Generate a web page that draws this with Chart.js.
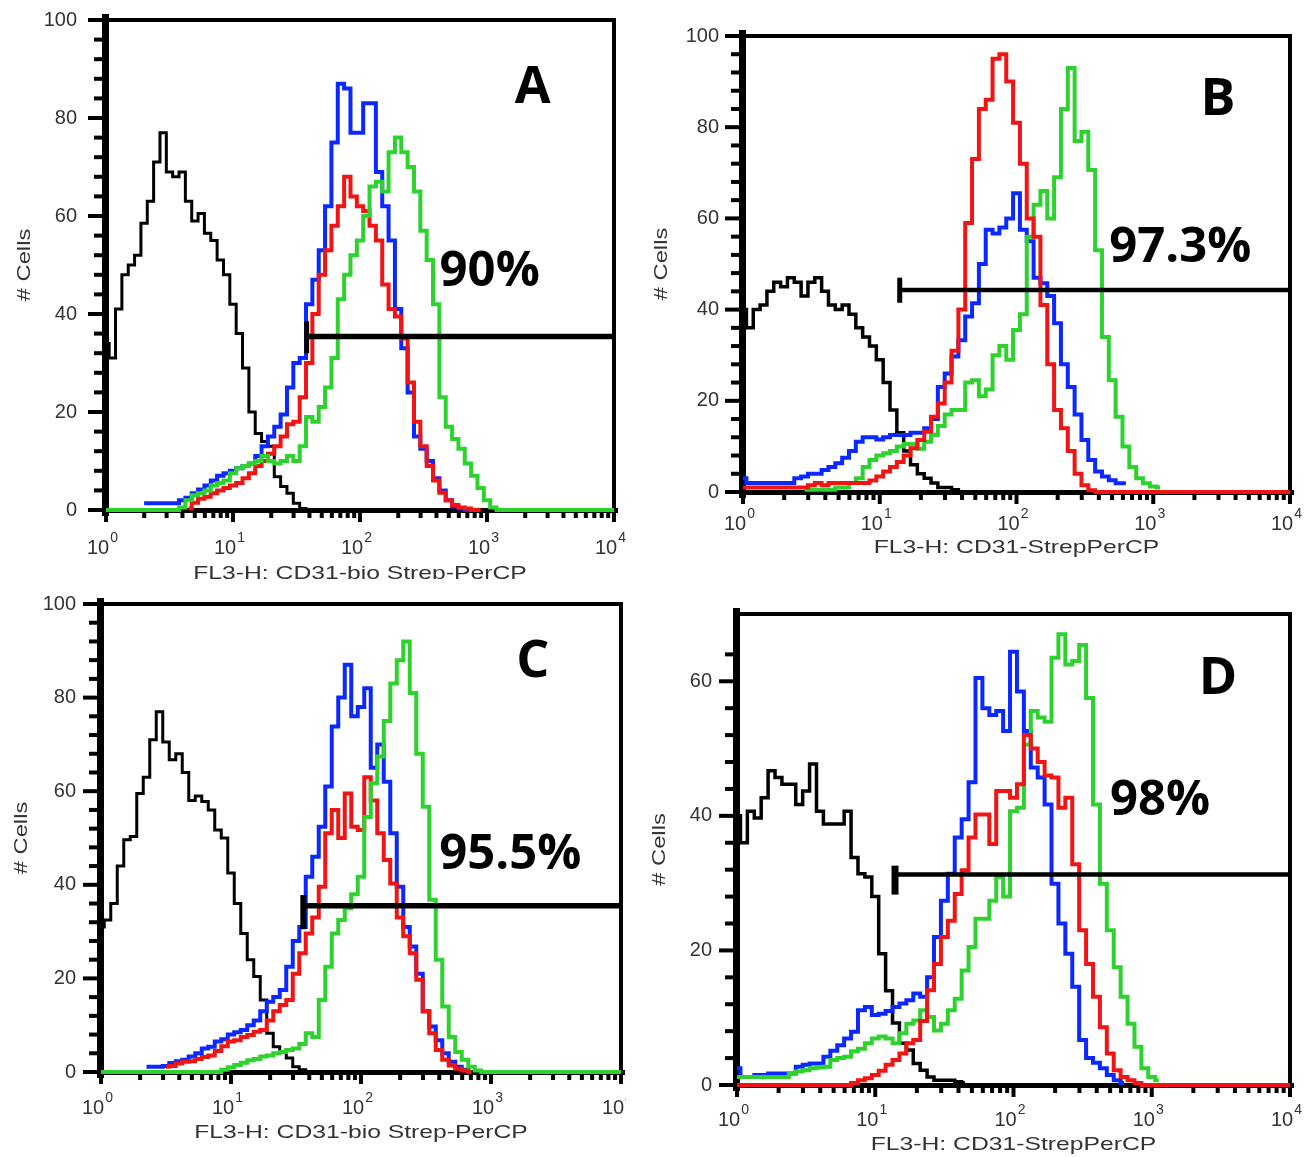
<!DOCTYPE html>
<html>
<head>
<meta charset="utf-8">
<title>CD31 flow cytometry histograms</title>
<script src="https://cdn.jsdelivr.net/npm/chart.js@4.4.1/dist/chart.umd.min.js"></script>
<style>
  body { margin: 0; background: #fff; }
  #wrap { position: relative; width: 1308px; height: 1157px; overflow: hidden; background: #fff; }
  #wrap canvas { position: absolute; }
</style>
</head>
<body>
<div id="wrap">
  <canvas id="chartA" width="640" height="579" style="left:0;top:0"></canvas>
  <canvas id="chartB" width="668" height="579" style="left:640px;top:0"></canvas>
  <canvas id="chartC" width="626" height="574" style="left:0;top:583px"></canvas>
  <canvas id="chartD" width="668" height="574" style="left:640px;top:583px"></canvas>
</div>
<script>
// histogram channels: 20 bins per decade from 10^0 to 10^4
const bins = Array.from({ length: 81 }, (_, i) => Math.pow(10, i / 20));

// x ticks of the log axis (1..9 x 10^n)
const xTicks = [];
for (let e = 0; e < 4; e++) for (let m = 1; m < 10; m++) xTicks.push(m * Math.pow(10, e));
xTicks.push(10000);

// ---- panel A ----
const aBlack = [34,31,41,48,50,52,58.5,63,71,77,69,68,69,63,59,60.5,56.5,55,51,48,42,36,29,20,15.6,14,13,6.8,4.8,3.4,1.4,0.3,0];
const aBlue = [null,null,null,null,null,null,1.4,1.4,1.4,1.4,1.4,1.4,2,2.5,3.4,4.2,5,6,7,7.5,8,8.5,9,9.5,11,13,15,17,19.5,25,30,31,42,47,53,62,75,87,86,77,77,83,83,69,62,55,41,33,24,15,12.5,10,6.5,4,2,0.7,0.3,0,0];
const aRed = [null,null,null,null,null,null,null,null,null,null,null,null,null,0.3,1.5,2.3,2.7,3.4,4,4.5,5,5.5,6.5,7.5,9,10,11.5,13,15,17.5,18,23,30,40,48,53,58,62,68,64,62,61,58,55,46,41,39.5,35,26,18,13,9,6,3.5,2,1,0.5,0.3,0,0];
const aGreen = [0,0,0,0,0,0,0,0,0,0,0,0,
  0.5,2,3,3.4,4,5,5.5,6,7.5,8.5,
  9,9.5,10,11,10,9.5,10,11,10,13,
  19,18,21,25,31,43,48,52,55,60,
  66,67,65,73,76,73,70,65,57,51,
  42,23,17,14.5,12.5,9.5,7,4.5,2,0.5,
  0,0,0,0,0,0,0,0,0,0,0,0,0,0,0,0,0,0,0];
const aGateX = [38, 10000], aGateY = 35.4, aGateTick = [32, 38.5];

// ---- panel B ----
const bBlack = [40,36,40,41,44,46,45,47,46,43,46,47,44,41,40,41,39,36,34,32,29,24,18,13,9,6,4,3,2,1,1,0.5,0];
const bBlue = [3,2,2,2,2,2,2,2,3,3.4,4,4,4.8,5.5,6.3,7.5,9,11,12,12,11.5,12,12.5,12.5,12.5,13,13,14,16,23,26,29.7,33.3,38.5,41.4,50,57.5,56.7,58,60,65.5,57.5,55,47,45.8,43,37,28,23,17,11.4,7,4.5,3.4,2.6,1.9,1.9];
const bRed = [1,1,1,1,1,1,1,1,1,1,
  1.5,2,1.5,2,2,2,2,2,2,2.5,
  3.4,4.5,5.5,6.6,8,9.6,11.4,13.2,16.5,19.4,
  24,31,40,59,73,84,86,95,96,90,
  81,72,60,56,41,28,18,14,9,4,
  1.5,0.4,
  0,0,0,0,0,0,0,0,0,0,0,0,0,0,0,0,0,0,0,0,0,0,0,0,0,0,0,0,0];
const bGreen = [null,null,null,null,null,null,null,null,null,0.5,0.5,0.5,0.5,0.5,1,1,2,3,5.5,7,8,8.5,9,10,10.5,10.5,9.5,11,12.5,14.5,17,18,18,24,24.5,21,22.5,30,32,29,35.5,39,56,63,66,60,69,84,93,77,79,70.6,53,34,24.5,16.5,10,5.5,3,1.9,1.2,1];
const bGateX = [14, 10000], bGateY = 44.3, bGateTick = [41.5, 47];

// ---- panel C ----
const cBlack = [31,32.5,36,44,49.6,50.3,59.5,63,71,77,70.5,66.7,68,64,58,59,57.8,56,51.7,50,42.5,36,29.6,24,20.4,15.4,8.3,5.4,4.3,3,1.1,0.5,0];
const cBlue = [null,null,null,null,null,null,null,1.1,1.1,1.1,1.3,1.9,2.3,2.6,3.3,4,5,5.4,6.5,7,8,8.5,9,10,11,13,15,16,17.5,22.5,28,31,41.7,46,52.4,61,73.8,80,87,76,78,82,65,70,62,51,39.6,31,26.8,21,13,9.7,6.8,4,2.2,1.1,0.5,0];
const cRed = [null,null,null,null,null,null,null,null,null,null,1.1,1.3,1.8,2.2,2.3,2.8,3.2,3.5,4.5,5.5,6.5,6.8,7.5,7.9,8.6,9,11,13,14.3,15.4,21,25.4,29.6,33,39.6,51,56,50,59.5,52.4,51.7,63,58,51,45.3,40.3,33,29,25.4,19.7,13,8.3,4.7,2.6,1.4,0.7,0.3,0];
const cGreen = [0,0,0,0,0,0,0,0,0,0,0,0,0,0,0,0,0,0,0,
  0.5,1,1.5,2,2.5,2.8,3.3,3.5,4,4.3,
  4.7,5,6,8.3,7.5,15.4,22.5,29.6,32.5,35,
  38,41.7,54.5,61.7,67.4,75,83,88,92,81,
  68,56.7,36.8,24,14,7.5,4.3,2.6,1.1,0.3,
  0,0,0,0,0,0,0,0,0,0,0,0,0,0,0,0,0,0,0,0,0,0];
const cGateX = [36, 10000], cGateY = 35.5, cGateTick = [30.5, 37.8];

// ---- panel D ----
const dBlack = [40,36,40.7,39.7,42.7,46.7,45.7,44.7,44.7,41.7,43.7,47.7,40.7,38.8,38.8,38.8,40.7,33.8,31.4,30.9,28,19.5,14,9.2,6.2,5.2,3.2,2.2,1.2,0.7,0.7,0.7,0.5,0.3];
const dBlue = [2.5,1.2,1.2,1.5,1.5,1.7,1.7,1.7,1.7,2.7,3,3.2,3.2,4.2,5.1,5.9,6.9,7.9,11.1,11.6,10.4,10.6,11,11.6,12.1,12.6,13.6,13.1,16,22,27.4,31.4,36.8,39.5,45,60.5,56,55,55.6,52.6,64.4,58.5,52.6,47.2,45.7,41.7,29.9,24,19.5,14.6,6.7,4,3.3,2.5,1.5,0.7,0.3];
const dRed = [0,0,0,0,0,0,0,0,0,0,0,0,0,0,0,0,0,
  0.3,0.7,1,1.5,2.1,3,3.7,4.7,6.2,6.7,
  9.5,14.1,18,22,24.4,28.4,31.9,36.8,40.2,40.2,
  35.8,43.7,43.7,42.7,44.7,52,50,48,46,45.7,
  41.2,42.7,32.8,23,18,13.1,8.6,4.7,2.2,1.2,
  0.7,0.3,
  0,0,0,0,0,0,0,0,0,0,0,0,0,0,0,0,0,0,0,0,0,0];
const dGreen = [1.2,1.2,1.2,1.2,1.2,1.2,1.2,1.2,1.7,2,2.2,2.5,2.6,2.7,3.7,4,4.2,5,5.4,6.2,6.9,7.2,6.9,6.2,7.7,9.1,9.6,11.1,10.1,8.1,9.1,11.1,12.8,17,20.5,24.7,24.7,27.4,30.9,28,40.7,41.2,50.6,55.6,54.6,54,63.5,67,62.5,63,65.4,57.5,41.7,29.9,23,17.5,13.1,9.1,5.7,2.5,1.2,0.7];
const dGateX = [13.9, 10000], dGateY = 31.3, dGateTick = [28.3, 32.6];

const BLACK = '#000000', BLUE = '#0a28ff', RED = '#f01414', GREEN = '#2ed22e';

Chart.defaults.font.family = '"Liberation Sans", Arial, sans-serif';

function points(values) {
  return values.map((v, i) => (v === null ? null : { x: bins[i], y: v })).filter(p => p !== null);
}

function isDecade(v) {
  const e = Math.round(Math.log10(v));
  return Math.abs(Math.pow(10, e) - v) < 1e-6;
}

// frame, axis lines and tick marks (drawn under the data, like the original)
const framePlugin = {
  id: 'frame',
  beforeDatasetsDraw(chart) {
    const { ctx, chartArea: a, scales: { x, y } } = chart;
    ctx.save();
    ctx.fillStyle = '#000';
    ctx.fillRect(a.left, a.top - 2, a.right - a.left + 2, 4);
    ctx.fillRect(a.right - 2, a.top - 2, 4, a.bottom - a.top + 4);
    ctx.fillRect(a.left - 4, a.top - 6, 7, a.bottom - a.top + 12);
    ctx.fillRect(a.left - 4, a.bottom - 2, a.right - a.left + 8, 5);
    y.ticks.forEach(t => {
      if (t.value % 4 !== 0) return;
      const py = y.getPixelForValue(t.value);
      const len = t.value % 20 === 0 ? 14 : 8;
      ctx.fillRect(a.left - 4 - len, py - 2, len, 4);
    });
    x.ticks.forEach(t => {
      const px = x.getPixelForValue(t.value);
      ctx.fillRect(px - 2, a.bottom + 2, 4, isDecade(t.value) ? 10 : 6);
    });
    ctx.restore();
  }
};

// decade labels (10 with a raised exponent), panel letter, gate percentage, axis titles
const textPlugin = {
  id: 'panelText',
  afterDraw(chart, args, o) {
    const { ctx, chartArea: a, scales: { x, y } } = chart;
    ctx.save();
    ctx.textBaseline = 'middle';

    ctx.fillStyle = '#333';
    x.ticks.forEach(t => {
      if (!isDecade(t.value)) return;
      const e = Math.round(Math.log10(t.value));
      const px = x.getPixelForValue(t.value);
      ctx.font = '20px "Liberation Sans"';
      const w10 = ctx.measureText('10').width;
      ctx.font = '14px "Liberation Sans"';
      const wE = ctx.measureText(String(e)).width;
      const left = px - 4 - (w10 + wE) / 2;
      ctx.textAlign = 'left';
      ctx.font = '20px "Liberation Sans"';
      ctx.fillText('10', left, a.bottom + o.xLabelOff);
      ctx.font = '14px "Liberation Sans"';
      ctx.fillText(String(e), left + w10 + 1, a.bottom + o.xLabelOff - 10);
    });

    ctx.textAlign = 'center';
    ctx.fillStyle = '#000';
    ctx.font = '700 52px "Open Sans"';
    ctx.fillText(o.letter, x.getPixelForValue(o.letterAt[0]), y.getPixelForValue(o.letterAt[1]));
    ctx.font = '700 49px "Open Sans"';
    ctx.fillText(o.pct, x.getPixelForValue(o.pctAt[0]), y.getPixelForValue(o.pctAt[1]));

    ctx.fillStyle = '#333';
    ctx.font = '19px "Liberation Sans"';
    ctx.save();
    ctx.translate((a.left + a.right) / 2, a.bottom + o.xTitleOff);
    ctx.scale(1.3, 1);
    ctx.fillText(o.xTitle, 0, 0);
    ctx.restore();
    ctx.save();
    ctx.translate(a.left - o.yTitleOff, (a.top + a.bottom) / 2);
    ctx.rotate(-Math.PI / 2);
    ctx.scale(1.25, 1);
    ctx.fillText('# Cells', 0, 0);
    ctx.restore();
    ctx.restore();
  }
};

function histChart(id, p) {
  const datasets = [
    { data: [{ x: p.gateX[0], y: p.gateY }, { x: p.gateX[1], y: p.gateY }], borderColor: '#000', borderWidth: p.gateW, clip: false },
    { data: [{ x: p.gateX[0], y: p.gateTick[0] }, { x: p.gateX[0], y: p.gateTick[1] }], borderColor: '#000', borderWidth: p.tickW, clip: false }
  ];
  p.series.forEach(([values, color, width]) => {
    datasets.push({ data: points(values), borderColor: color, borderWidth: width, stepped: 'middle', clip: false, borderJoinStyle: 'miter' });
  });

  return new Chart(document.getElementById(id), {
    type: 'line',
    data: { datasets },
    options: {
      responsive: false,
      animation: false,
      events: [],
      layout: { padding: { top: p.padTop, right: p.padRight, left: 0, bottom: 0 } },
      elements: { point: { radius: 0 } },
      plugins: {
        legend: { display: false },
        tooltip: { enabled: false },
        panelText: p.text
      },
      scales: {
        x: {
          type: 'logarithmic',
          min: 1,
          max: 10000,
          grid: { display: false, drawTicks: false },
          border: { display: false },
          afterBuildTicks: s => { s.ticks = xTicks.map(v => ({ value: v })); },
          afterFit: s => { s.height = p.xAxisH; s.paddingLeft = 0; s.paddingRight = 0; },
          ticks: { display: false, autoSkip: false }
        },
        y: {
          min: 0,
          max: p.yMax,
          grid: { display: false, drawTicks: false },
          border: { display: false },
          afterFit: s => { s.width = p.yAxisW; s.paddingTop = 0; s.paddingBottom = 0; },
          ticks: {
            stepSize: 4,
            autoSkip: false,
            padding: p.yPad,
            color: '#333',
            font: { size: 20 },
            callback: v => (v % 20 === 0 ? v : '')
          }
        }
      }
    },
    plugins: [framePlugin, textPlugin]
  });
}

histChart('chartA', {
  yMax: 100, padTop: 20, padRight: 26, yAxisW: 106, xAxisH: 69, yPad: 29,
  gateX: aGateX, gateY: aGateY, gateTick: aGateTick, gateW: 5.5, tickW: 5,
  series: [[aGreen, GREEN, 4], [aRed, RED, 4], [aBlue, BLUE, 4], [aBlack, BLACK, 3]],
  text: { letter: 'A', letterAt: [2290, 86], pct: '90%', pctAt: [1050, 48.6],
          xTitle: 'FL3-H: CD31-bio Strep-PerCP', xTitleOff: 64, yTitleOff: 81, xLabelOff: 38 }
});

histChart('chartB', {
  yMax: 100, padTop: 36, padRight: 18, yAxisW: 103, xAxisH: 87, yPad: 24,
  gateX: bGateX, gateY: bGateY, gateTick: bGateTick, gateW: 4.5, tickW: 5,
  series: [[bRed, RED, 4], [bGreen, GREEN, 4], [bBlue, BLUE, 4], [bBlack, BLACK, 3.5]],
  text: { letter: 'B', letterAt: [2970, 86], pct: '97.3%', pctAt: [1580, 53.5],
          xTitle: 'FL3-H: CD31-StrepPerCP', xTitleOff: 56, yTitleOff: 81, xLabelOff: 32 }
});

histChart('chartC', {
  yMax: 100, padTop: 21, padRight: 5, yAxisW: 101, xAxisH: 85, yPad: 25,
  gateX: cGateX, gateY: cGateY, gateTick: cGateTick, gateW: 5.5, tickW: 6,
  series: [[cGreen, GREEN, 4], [cRed, RED, 4], [cBlue, BLUE, 4], [cBlack, BLACK, 3]],
  text: { letter: 'C', letterAt: [2100, 87.6], pct: '95.5%', pctAt: [1410, 46.4],
          xTitle: 'FL3-H: CD31-bio Strep-PerCP', xTitleOff: 61, yTitleOff: 79, xLabelOff: 36 }
});

histChart('chartD', {
  yMax: 70, padTop: 31, padRight: 18, yAxisW: 97, xAxisH: 72, yPad: 25,
  gateX: dGateX, gateY: dGateY, gateTick: dGateTick, gateW: 4.5, tickW: 7,
  series: [[dRed, RED, 4], [dGreen, GREEN, 4], [dBlue, BLUE, 4], [dBlack, BLACK, 3.5]],
  text: { letter: 'D', letterAt: [3020, 60.3], pct: '98%', pctAt: [1150, 42.2],
          xTitle: 'FL3-H: CD31-StrepPerCP', xTitleOff: 60, yTitleOff: 77, xLabelOff: 35 }
});
</script>
</body>
</html>
